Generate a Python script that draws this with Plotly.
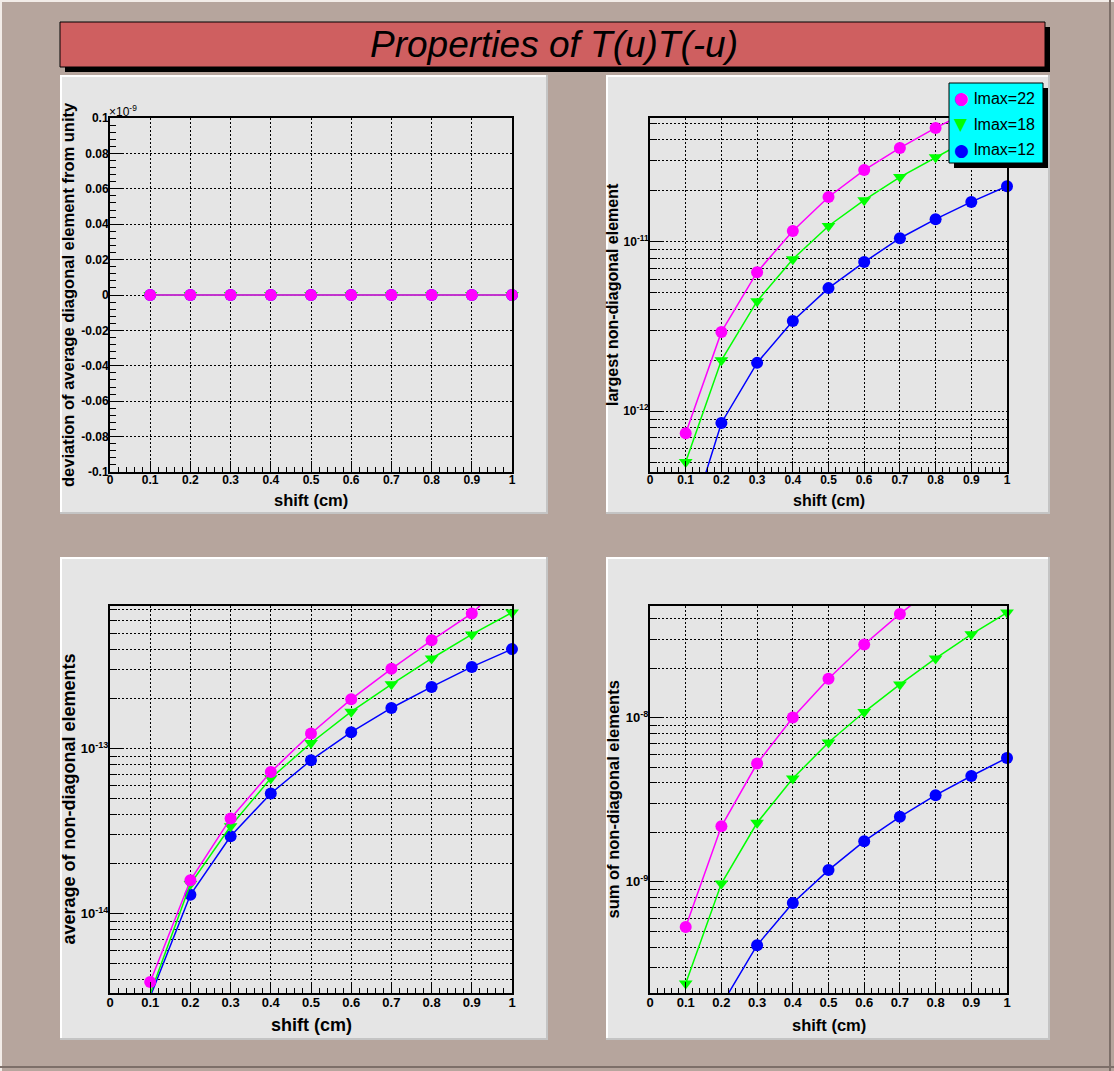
import plotly.graph_objects as go
import math

W, H = 1114, 1071

# ---------------- data ----------------
shift = [0.1, 0.2, 0.3, 0.4, 0.5, 0.6, 0.7, 0.8, 0.9, 1.0]
series_names = ["lmax=22", "lmax=18", "lmax=12"]
series_colors = ["#ff00ff", "#00ff00", "#0000ff"]
series_symbols = ["circle", "triangle-down", "circle"]

dev_l22 = [0.0, 0.0, 0.0, 0.0, 0.0, 0.0, 0.0, 0.0, 0.0, 0.0]
dev_l18 = [0.0, 0.0, 0.0, 0.0, 0.0, 0.0, 0.0, 0.0, 0.0, 0.0]
dev_l12 = [0.0, 0.0, 0.0, 0.0, 0.0, 0.0, 0.0, 0.0, 0.0, 0.0]

largest_l22 = [7.41e-13, 2.94e-12, 6.62e-12, 1.16e-11, 1.84e-11, 2.65e-11, 3.58e-11, 4.70e-11, 6.0e-11, 7.57e-11]
largest_l18 = [5.02e-13, 2.0e-12, 4.46e-12, 7.9e-12, 1.24e-11, 1.76e-11, 2.41e-11, 3.16e-11, 4.1e-11, 5.24e-11]
largest_l12 = [1.8e-13, 8.53e-13, 1.93e-12, 3.41e-12, 5.33e-12, 7.59e-12, 1.05e-11, 1.36e-11, 1.72e-11, 2.13e-11]

avg_l22 = [3.85e-15, 1.59e-14, 3.77e-14, 7.21e-14, 1.233e-13, 1.99e-13, 3.04e-13, 4.52e-13, 6.58e-13, 1.12e-12]
avg_l18 = [3.25e-15, 1.51e-14, 3.38e-14, 6.6e-14, 1.08e-13, 1.67e-13, 2.45e-13, 3.51e-13, 4.91e-13, 6.67e-13]
avg_l12 = [3.13e-15, 1.30e-14, 2.94e-14, 5.34e-14, 8.49e-14, 1.256e-13, 1.76e-13, 2.36e-13, 3.12e-13, 4.0e-13]

sum_l22 = [5.32e-10, 2.18e-9, 5.25e-9, 1.0e-8, 1.72e-8, 2.78e-8, 4.27e-8, 6.38e-8, 9.3e-8, 1.32e-7]
sum_l18 = [2.41e-10, 9.78e-10, 2.29e-9, 4.26e-9, 7.05e-9, 1.08e-8, 1.59e-8, 2.29e-8, 3.21e-8, 4.35e-8]
sum_l12 = [4.7e-11, 1.78e-10, 4.12e-10, 7.45e-10, 1.18e-9, 1.77e-9, 2.49e-9, 3.37e-9, 4.41e-9, 5.68e-9]

dev_ticks = [-1e-10, -8e-11, -6e-11, -4e-11, -2e-11, 0.0, 2e-11, 4e-11, 6e-11, 8e-11, 1e-10]
dev_ticktext = ["-0.1", "-0.08", "-0.06", "-0.04", "-0.02", "0", "0.02", "0.04", "0.06", "0.08", "0.1"]

title_text = "Properties of T(u)T(-u)"
xtitle = "shift (cm)"
ytitles = ["deviation of average diagonal element from unity",
           "largest non-diagonal element",
           "average of non-diagonal elements",
           "sum of non-diagonal elements"]

# ---------------- layout geometry (pixels) ----------------
CANVAS = "#b6a59d"
PAD = "#e5e5e5"
FONT = "Liberation Sans"
GRIDDASH = "2px,2px"

def fx(p):
    return p / W

def fy(p):
    return 1 - p / H

pads = [(60, 75, 548, 514), (606, 75, 1050, 514), (60, 557, 548, 1040), (606, 557, 1050, 1040)]
frames = [(110, 118, 512, 472), (650, 118, 1007, 472), (110, 606, 512, 993), (650, 606, 1007, 993)]
yranges = [[-1e-10, 1e-10],
           [math.log10(4.38e-13), math.log10(5.38e-11)],
           [math.log10(3.3e-15), math.log10(7.3e-13)],
           [math.log10(2.11e-10), math.log10(4.77e-8)]]
ytypes = ["linear", "log", "log", "log"]
datasets = [(dev_l22, dev_l18, dev_l12), (largest_l22, largest_l18, largest_l12),
            (avg_l22, avg_l18, avg_l12), (sum_l22, sum_l18, sum_l12)]
title_fs = [16.5, 16, 18, 16.5]
label_fs = [12, 12, 13, 13]
xtitle_gap = [28, 28, 32, 32]

fig = go.Figure()

shapes = []
annotations = []

# canvas bevel
shapes.append(dict(type="line", xref="paper", yref="paper", x0=fx(1), x1=fx(1), y0=fy(0), y1=fy(H),
                   line=dict(color="#f2ece8", width=2)))
shapes.append(dict(type="line", xref="paper", yref="paper", x0=fx(0), x1=fx(W), y0=fy(1), y1=fy(1),
                   line=dict(color="#f2ece8", width=2)))
shapes.append(dict(type="line", xref="paper", yref="paper", x0=fx(0), x1=fx(W), y0=fy(H - 4), y1=fy(H - 4),
                   line=dict(color="#7d6f69", width=2)))
shapes.append(dict(type="line", xref="paper", yref="paper", x0=fx(W - 4), x1=fx(W - 4), y0=fy(0), y1=fy(H),
                   line=dict(color="#7d6f69", width=2)))

# title box with shadow
shapes.append(dict(type="rect", xref="paper", yref="paper", x0=fx(65), x1=fx(1050), y0=fy(27), y1=fy(72),
                   fillcolor="black", line=dict(width=0), layer="below"))
shapes.append(dict(type="rect", xref="paper", yref="paper", x0=fx(60), x1=fx(1045), y0=fy(22), y1=fy(67),
                   fillcolor="#cf5f60", line=dict(color="black", width=1), layer="below"))
annotations.append(dict(text=title_text, xref="paper", yref="paper", x=fx(554), y=fy(45),
                        xanchor="center", yanchor="middle", showarrow=False,
                        font=dict(family=FONT, size=37, color="black", style="italic")))

for i in range(4):
    px0, py0, px1, py1 = pads[i]
    shapes.append(dict(type="rect", xref="paper", yref="paper", x0=fx(px0), x1=fx(px1), y0=fy(py1), y1=fy(py0),
                       fillcolor=PAD, line=dict(width=0), layer="below"))
    shapes.append(dict(type="line", xref="paper", yref="paper", x0=fx(px0 + 1), x1=fx(px0 + 1), y0=fy(py1), y1=fy(py0),
                       line=dict(color="#ffffff", width=2), layer="below"))
    shapes.append(dict(type="line", xref="paper", yref="paper", x0=fx(px0), x1=fx(px1), y0=fy(py0 + 1), y1=fy(py0 + 1),
                       line=dict(color="#ffffff", width=2), layer="below"))
    shapes.append(dict(type="line", xref="paper", yref="paper", x0=fx(px0), x1=fx(px1), y0=fy(py1 - 1), y1=fy(py1 - 1),
                       line=dict(color="#c4c4c4", width=2), layer="below"))
    shapes.append(dict(type="line", xref="paper", yref="paper", x0=fx(px1 - 1), x1=fx(px1 - 1), y0=fy(py1), y1=fy(py0),
                       line=dict(color="#c4c4c4", width=2), layer="below"))

    fx0, fy0, fx1, fy1 = frames[i]
    sfx = "" if i == 0 else str(i + 1)
    xa = "x" + sfx
    ya = "y" + sfx

    tickfont = dict(family=FONT, size=label_fs[i], color="black", weight="bold")
    xaxis = dict(domain=[fx(fx0), fx(fx1)], anchor=ya, range=[0, 1], tick0=0, dtick=0.1,
                 ticks="inside", ticklen=11, tickwidth=1, tickcolor="black",
                 showline=True, linecolor="black", linewidth=2, mirror=True, automargin=False,
                 showgrid=True, gridcolor="black", griddash=GRIDDASH, gridwidth=1,
                 zeroline=False, tickfont=tickfont, ticklabelstandoff=-4,
                 minor=dict(dtick=0.02, ticks="inside", ticklen=5, tickcolor="black", tickwidth=1, showgrid=False))
    yaxis = dict(domain=[fy(fy1), fy(fy0)], anchor=xa, range=yranges[i], type=ytypes[i],
                 ticks="inside", ticklen=12, tickwidth=1, tickcolor="black",
                 showline=True, linecolor="black", linewidth=2, mirror=True, automargin=False,
                 showgrid=True, gridcolor="black", griddash=GRIDDASH, gridwidth=1,
                 zeroline=False, tickfont=tickfont, ticklabelstandoff=-3)
    if i == 0:
        yaxis.update(tickmode="array", tickvals=dev_ticks, ticktext=dev_ticktext,
                     minor=dict(dtick=4e-12, ticks="inside", ticklen=6, tickcolor="black", tickwidth=1, showgrid=False))
    else:
        lo, hi = yranges[i]
        decades = list(range(math.floor(lo), math.ceil(hi) + 1))
        major = [10.0 ** d for d in decades if lo <= d <= hi]
        minor_vals = []
        for d in decades:
            for m in range(2, 10):
                v = m * 10.0 ** d
                if lo <= math.log10(v) <= hi:
                    minor_vals.append(v)
        yaxis.update(tickmode="array", tickvals=major,
                     ticktext=["10<sup>%d</sup>" % d for d in decades if lo <= d <= hi],
                     minor=dict(tickmode="array", tickvals=minor_vals, ticks="inside", ticklen=7,
                                tickcolor="black", tickwidth=1, showgrid=True, gridcolor="black",
                                griddash=GRIDDASH, gridwidth=1))
    fig.layout["xaxis" + sfx] = xaxis
    fig.layout["yaxis" + sfx] = yaxis

    # traces: draw lmax=12 first, lmax=22 last (on top)
    for k in [2, 1, 0]:
        yv = datasets[i][k]
        fig.add_trace(go.Scatter(x=shift, y=yv, xaxis=xa, yaxis=ya, mode="lines",
                                 line=dict(color=series_colors[k], width=1.5),
                                 showlegend=False, hoverinfo="skip"))
        lo, hi = yranges[i]
        inx, iny = [], []
        for xv, v in zip(shift, yv):
            t = math.log10(v) if ytypes[i] == "log" else v
            if lo <= t <= hi:
                inx.append(xv)
                iny.append(v)
        fig.add_trace(go.Scatter(x=inx, y=iny, xaxis=xa, yaxis=ya, mode="markers", name=series_names[k],
                                 marker=dict(color=series_colors[k], symbol=series_symbols[k], size=12,
                                             line=dict(width=0)),
                                 cliponaxis=False, showlegend=False))

    # axis titles
    annotations.append(dict(text=xtitle, xref="paper", yref="paper", x=fx((fx0 + fx1) / 2),
                            y=fy(fy1 + xtitle_gap[i]), xanchor="center", yanchor="middle", showarrow=False,
                            font=dict(family=FONT, size=title_fs[i], color="black", weight="bold")))
    annotations.append(dict(text=ytitles[i], xref="paper", yref="paper", x=fx(px0 + 8 if i % 2 == 0 else px0 + 6),
                            y=fy((fy0 + fy1) / 2), xanchor="center", yanchor="middle", showarrow=False,
                            textangle=-90,
                            font=dict(family=FONT, size=title_fs[i], color="black", weight="bold")))

# x10^-9 exponent label for the linear deviation axis
annotations.append(dict(text="\u00d710<sup>-9</sup>", xref="paper", yref="paper", x=fx(107), y=fy(111),
                        xanchor="left", yanchor="middle", showarrow=False,
                        font=dict(family=FONT, size=12, color="black")))

# legend (top-right pad) : shadow, box, entries
shapes.append(dict(type="rect", xref="paper", yref="paper", x0=fx(954), x1=fx(1048), y0=fy(168), y1=fy(88),
                   fillcolor="black", line=dict(width=0), layer="above"))
shapes.append(dict(type="rect", xref="paper", yref="paper", x0=fx(949), x1=fx(1043), y0=fy(163), y1=fy(83),
                   fillcolor="#00ffff", line=dict(color="black", width=1), layer="above"))
legend_glyph = {"circle": "\u25cf", "triangle-down": "\u25bc"}
for k in range(3):
    yrow = 98 + 26 * k
    annotations.append(dict(text=legend_glyph[series_symbols[k]], xref="paper", yref="paper", x=fx(961), y=fy(yrow),
                            xanchor="center", yanchor="middle", showarrow=False,
                            font=dict(family="DejaVu Sans", size=17, color=series_colors[k])))
    annotations.append(dict(text=series_names[k], xref="paper", yref="paper", x=fx(972), y=fy(yrow),
                            xanchor="left", yanchor="middle", showarrow=False,
                            font=dict(family=FONT, size=16, color="black")))

fig.update_layout(width=W, height=H, margin=dict(l=0, r=0, t=0, b=0, pad=0, autoexpand=False),
                  autosize=False,
                  paper_bgcolor=CANVAS, plot_bgcolor="rgba(0,0,0,0)",
                  shapes=shapes, annotations=annotations, showlegend=False,
                  font=dict(family=FONT, color="black"))

page_fix = (
    "var h=document.documentElement.style;h.margin='0';h.padding='0';h.overflow='hidden';"
    "h.width='1114px';h.height='1071px';"
    "var b=document.body.style;b.margin='0';b.padding='0';b.overflow='hidden';"
    "b.width='1114px';b.height='1071px';"
    "var d=document.getElementById('{plot_id}');d.style.position='fixed';d.style.left='0';d.style.top='0';"
)
fig.write_html("out.html", config={"displayModeBar": False}, post_script=page_fix)
